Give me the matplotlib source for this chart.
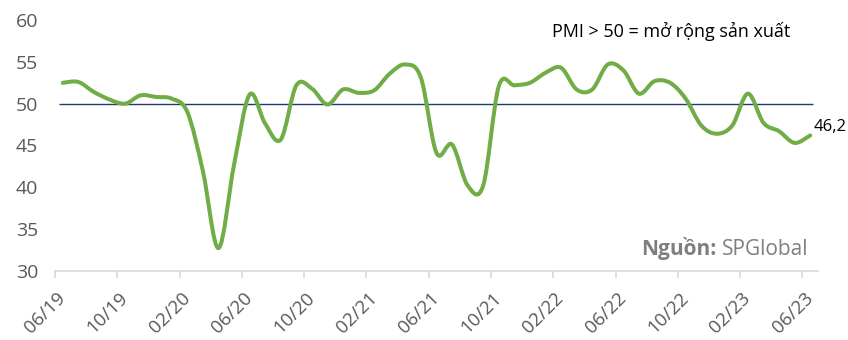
import numpy as np
import matplotlib
matplotlib.use("Agg")
import matplotlib.pyplot as plt
import matplotlib.transforms as mtrans
from matplotlib.path import Path
from matplotlib.patches import PathPatch

# Vietnam manufacturing PMI, monthly 06/2019 - 06/2023
pmi = [52.5, 52.6, 51.4, 50.5, 50.0, 51.0, 50.8,
       50.6, 49.0, 41.9, 32.7, 42.7, 51.1, 47.6, 45.7, 52.2, 51.8, 49.9, 51.7,
       51.3, 51.6, 53.6, 54.7, 53.1, 44.1, 45.1, 40.2, 40.2, 52.1, 52.2, 52.5,
       53.7, 54.3, 51.7, 51.7, 54.7, 54.0, 51.2, 52.7, 52.5, 50.6, 47.4, 46.4,
       47.4, 51.2, 47.7, 46.7, 45.3, 46.2]
tick_labels = ["06/19", "10/19", "02/20", "06/20", "10/20", "02/21", "06/21",
               "10/21", "02/22", "06/22", "10/22", "02/23", "06/23"]
threshold = 50

green = "#70AD47"
navy = "#1F3A6E"
gray = "#595959"

plt.rcParams['font.family'] = ['Open Sans', 'DejaVu Sans']

fig = plt.figure(figsize=(8.48, 3.4), dpi=100)
ax = fig.add_axes([55/848, 0.204, (818-55)/848, 0.7366])

x = np.arange(len(pmi)) + 0.5
y = np.array(pmi)

# smoothed line like excel (bezier through every point)
verts = [(x[0], y[0])]
codes = [Path.MOVETO]
n = len(x)
for i in range(n - 1):
    x0, y0 = (x[i-1], y[i-1]) if i > 0 else (x[i], y[i])
    x3, y3 = (x[i+2], y[i+2]) if i < n - 2 else (x[i+1], y[i+1])
    c1 = (x[i] + (x[i+1] - x0) / 6, y[i] + (y[i+1] - y0) / 6)
    c2 = (x[i+1] - (x3 - x[i]) / 6, y[i+1] - (y3 - y[i]) / 6)
    verts += [c1, c2, (x[i+1], y[i+1])]
    codes += [Path.CURVE4] * 3
ax.add_patch(PathPatch(Path(verts, codes), fill=False, edgecolor=green,
                       lw=2.9, capstyle='round', joinstyle='round', zorder=3))

ax.hlines(threshold, 0.25, len(pmi) - 0.35, color=navy, lw=1.0, zorder=2)

ax.set_xlim(0, len(pmi))
ax.set_ylim(30, 60)
ax.set_yticks(range(30, 61, 5))
ax.set_xticks(range(0, len(pmi), 4))

for s in ['top', 'right', 'left']:
    ax.spines[s].set_visible(False)
ax.spines['bottom'].set_color("#D9D9D9")
ax.spines['bottom'].set_linewidth(1.2)
ax.tick_params(axis='x', length=5, width=1.2, color="#D9D9D9",
               labelsize=13.5, labelcolor=gray, pad=3)
ax.tick_params(axis='y', length=0, labelsize=14, labelcolor=gray, pad=12)

# tick_params resets label transforms, so shift labels afterwards
ax.set_xticklabels(tick_labels, rotation=45, ha='right', va='center',
                   rotation_mode='anchor')
shift = mtrans.ScaledTranslation(5.5/72, -10/72, fig.dpi_scale_trans)
for lbl in ax.get_xticklabels():
    lbl.set_transform(lbl.get_transform() + shift)

ax.annotate("46,2", xy=(x[-1], y[-1]), xytext=(2.5, 3.5),
            textcoords='offset points', fontsize=12, color="black",
            ha='left', va='baseline')
ax.text(0.963, 0.934, "PMI > 50 = mở rộng sản xuất", transform=ax.transAxes,
        fontsize=13, color="black", ha='right', va='baseline')
src = ax.text(0.988, 0.063, "SPGlobal", transform=ax.transAxes, fontsize=15,
              color="#7F7F7F", ha='right', va='baseline')
ax.annotate("Nguồn:", xy=(0, 0), xycoords=src, xytext=(-4, 0),
            textcoords='offset points', fontsize=15,
            color="#7F7F7F", fontweight='bold', ha='right', va='bottom')

fig.savefig("out.png", dpi=100)
